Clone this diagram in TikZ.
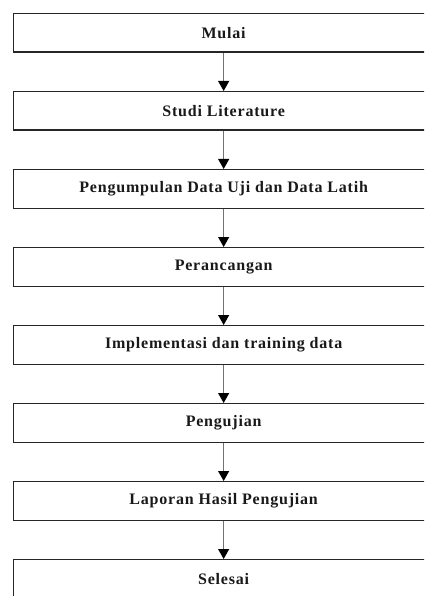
\documentclass[tikz,border=0pt]{standalone}
\usepackage{fontspec}
\setmainfont{Liberation Serif}[LetterSpace=5]
\usetikzlibrary{arrows.meta}
\begin{document}
\begin{tikzpicture}[x=1pt,y=-1pt,
  stepbox/.style={draw=black!85,line width=1.3pt,minimum width=420pt,minimum height=38.5pt,
    inner sep=0pt,anchor=north west,font=\fontsize{16pt}{18pt}\selectfont\bfseries,text=black!90},
  flow/.style={draw=black!55,line width=1.1pt,-{Triangle[width=11pt,length=10pt,black]}}]
\useasboundingbox (0,0) rectangle (424,596);
\clip (0,0) rectangle (424,596);
\node[stepbox] (s1) at (13,13) {Mulai};
\node[stepbox] (s2) at (13,91) {Studi Literature};
\node[stepbox] (s3) at (13,169) {Pengumpulan Data Uji dan Data Latih};
\node[stepbox] (s4) at (13,247) {Perancangan};
\node[stepbox] (s5) at (13,325) {Implementasi dan training data};
\node[stepbox] (s6) at (13,403) {Pengujian};
\node[stepbox] (s7) at (13,481) {Laporan Hasil Pengujian};
\node[stepbox] (s8) at (13,559) {Selesai};
\foreach \a/\b in {s1/s2,s2/s3,s3/s4,s4/s5,s5/s6,s6/s7,s7/s8}
  \draw[flow] (\a.south) -- (\b.north);
\end{tikzpicture}
\end{document}
